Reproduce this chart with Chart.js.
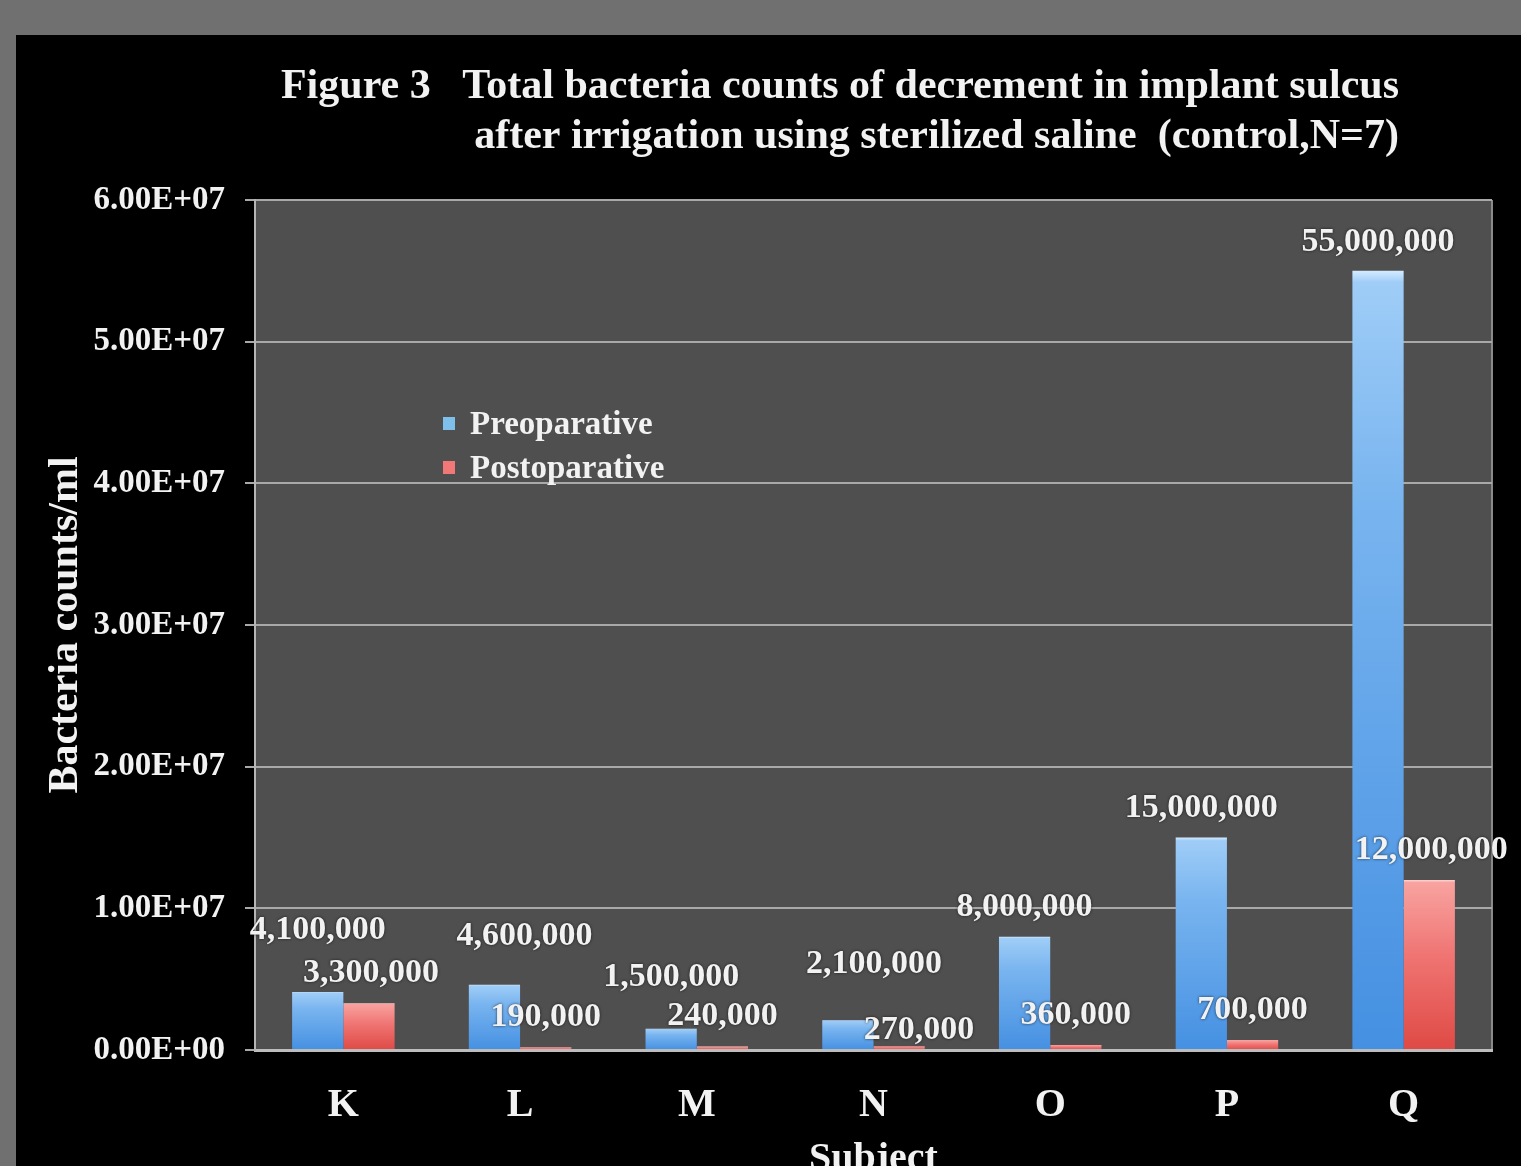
<!DOCTYPE html>
<html>
<head>
<meta charset="utf-8">
<script src="https://cdn.jsdelivr.net/npm/chart.js@4.4.1/dist/chart.umd.min.js"></script>
<style>
  html, body { margin: 0; padding: 0; background: #717070; overflow: hidden; width: 1521px; height: 1166px; }
  #panel { position: absolute; left: 16px; top: 35px; width: 1505px; height: 1170px; background: #000; }
  canvas { display: block; }
</style>
</head>
<body>
<div id="panel"><canvas id="c" width="1505" height="1170"></canvas></div>
<script>
// Subjects and bacteria counts (counts/ml) before and after irrigation
const subjects = ['K', 'L', 'M', 'N', 'O', 'P', 'Q'];
const preoperative = [4100000, 4600000, 1500000, 2100000, 8000000, 15000000, 55000000];
const postoperative = [3300000, 190000, 240000, 270000, 360000, 700000, 12000000];
const seriesNames = ['Preoparative', 'Postoparative'];
const titleLines = [
  'Figure 3   Total bacteria counts of decrement in implant sulcus',
  'after irrigation using sterilized saline  (control,N=7)'
];
const yAxisTitle = 'Bacteria counts/ml';
const xAxisTitle = 'Subject';
const yMin = 0, yMax = 60000000, yStep = 10000000;

const SERIF = '"Liberation Serif", "Times New Roman", serif';
const TEXT = '#f2f2f2';

// 6.00E+07 style tick text
function sci(v) {
  if (v === 0) return '0.00E+00';
  const e = Math.floor(Math.log10(Math.abs(v)) + 1e-9);
  const m = v / Math.pow(10, e);
  return m.toFixed(2) + 'E' + (e < 0 ? '-' : '+') + String(Math.abs(e)).padStart(2, '0');
}

const blueStops = [[0, '#d4ebff'], [0.015, '#9fcdf7'], [0.3, '#78b4ef'], [1, '#4590e2']];
const redStops  = [[0, '#ffd6d2'], [0.015, '#f8a3a0'], [0.45, '#ef7472'], [1, '#df4a45']];

function barFill(c, stops) {
  const chart = c.chart;
  const area = chart.chartArea;
  if (!area || c.type !== 'data' || !chart.scales.y) return stops[2][1];
  const top = chart.scales.y.getPixelForValue(c.raw);
  const bottom = area.bottom;
  const g = chart.ctx.createLinearGradient(0, top, 0, Math.max(bottom, top + 1));
  stops.forEach(s => g.addColorStop(s[0], s[1]));
  return g;
}

// plot background, frame and title
const framePlugin = {
  id: 'frame',
  beforeDraw(chart) {
    const { ctx, chartArea: a } = chart;
    ctx.save();
    ctx.fillStyle = '#000';
    ctx.fillRect(0, 0, chart.width, chart.height);
    ctx.fillStyle = '#4f4f4f';
    ctx.fillRect(a.left, a.top, a.right - a.left, a.bottom - a.top);
    ctx.strokeStyle = '#8a8a8a';
    ctx.lineWidth = 2;
    ctx.beginPath();
    ctx.moveTo(a.right, a.top);
    ctx.lineTo(a.right, a.bottom);
    ctx.stroke();
    ctx.restore();
  },
  afterDraw(chart, args, opts) {
    const { ctx } = chart;
    ctx.save();
    ctx.fillStyle = TEXT;
    ctx.font = 'bold 42px ' + SERIF;
    ctx.textAlign = 'right';
    ctx.textBaseline = 'middle';
    opts.lines.forEach((line, i) => {
      ctx.fillText(line, opts.right, opts.y + i * opts.gap);
    });
    ctx.restore();
  }
};

// value labels above each bar
const valueLabelPlugin = {
  id: 'valueLabels',
  afterDatasetsDraw(chart, args, opts) {
    const { ctx } = chart;
    ctx.save();
    ctx.font = 'bold 34px ' + SERIF;
    ctx.fillStyle = TEXT;
    ctx.textAlign = 'center';
    ctx.textBaseline = 'middle';
    ctx.shadowColor = 'rgba(0,0,0,0.7)';
    ctx.shadowBlur = 3;
    chart.data.datasets.forEach((ds, di) => {
      const meta = chart.getDatasetMeta(di);
      meta.data.forEach((bar, i) => {
        const n = opts.nudges[di][i];
        ctx.fillText(ds.data[i].toLocaleString('en-US'), bar.x + n[0], bar.y + n[1]);
      });
    });
    ctx.restore();
  }
};

// legend inside the plot area
const innerLegendPlugin = {
  id: 'innerLegend',
  afterDatasetsDraw(chart, args, opts) {
    const { ctx, chartArea: a } = chart;
    ctx.save();
    ctx.font = 'bold 33px ' + SERIF;
    ctx.textBaseline = 'middle';
    ctx.textAlign = 'left';
    chart.data.datasets.forEach((ds, i) => {
      const y = a.top + opts.y + i * opts.gap;
      const x = a.left + opts.x;
      ctx.fillStyle = opts.swatches[i];
      ctx.fillRect(x, y - 7, 12, 13);
      ctx.fillStyle = TEXT;
      ctx.fillText(ds.label, x + 27, y + 1);
    });
    ctx.restore();
  }
};

new Chart(document.getElementById('c'), {
  type: 'bar',
  data: {
    labels: subjects,
    datasets: [
      { label: seriesNames[0], data: preoperative, backgroundColor: c => barFill(c, blueStops), borderWidth: 0 },
      { label: seriesNames[1], data: postoperative, backgroundColor: c => barFill(c, redStops), borderWidth: 0 }
    ]
  },
  options: {
    responsive: false,
    animation: false,
    devicePixelRatio: 1,
    layout: { padding: { top: 165, right: 29, bottom: 21, left: 0 } },
    datasets: { bar: { categoryPercentage: 0.58, barPercentage: 1.0 } },
    plugins: {
      legend: { display: false },
      title: { display: false },
      tooltip: { enabled: false },
      frame: { lines: titleLines, right: 1383, y: 52, gap: 50 },
      innerLegend: { x: 188, y: 224, gap: 44, swatches: ['#7fc0ea', '#f27878'] },
      valueLabels: {
        nudges: [
          [[0, -62], [30, -49], [0, -52], [26, -56], [0, -29], [0, -29], [0, -29]],
          [[2, -30], [0, -30], [0, -30], [20, -16], [0, -30], [0, -30], [2, -30]]
        ]
      }
    },
    scales: {
      x: {
        grid: { display: false, drawTicks: false },
        border: { display: true, color: '#bdbdbd', width: 3 },
        ticks: { color: TEXT, font: { family: SERIF, size: 40, weight: 'bold' }, padding: 32 },
        title: { display: true, text: xAxisTitle, color: TEXT, font: { family: SERIF, size: 40, weight: 'bold' }, padding: { top: 0, bottom: 0 } },
        afterFit(s) { s.height = 134; }
      },
      y: {
        min: yMin, max: yMax,
        grid: { color: '#a9a9a9', lineWidth: 2, drawTicks: true, tickLength: 10, tickColor: '#a9a9a9' },
        border: { display: true, color: '#b5b5b5', width: 2 },
        ticks: { stepSize: yStep, color: TEXT, font: { family: SERIF, size: 33, weight: 'bold' }, padding: 20, callback: v => sci(v) },
        title: { display: true, text: yAxisTitle, color: TEXT, font: { family: SERIF, size: 42, weight: 'bold' }, padding: { top: 25, bottom: 0 } },
        afterFit(s) { s.width = 239; }
      }
    }
  },
  plugins: [framePlugin, valueLabelPlugin, innerLegendPlugin]
});
</script>
</body>
</html>
